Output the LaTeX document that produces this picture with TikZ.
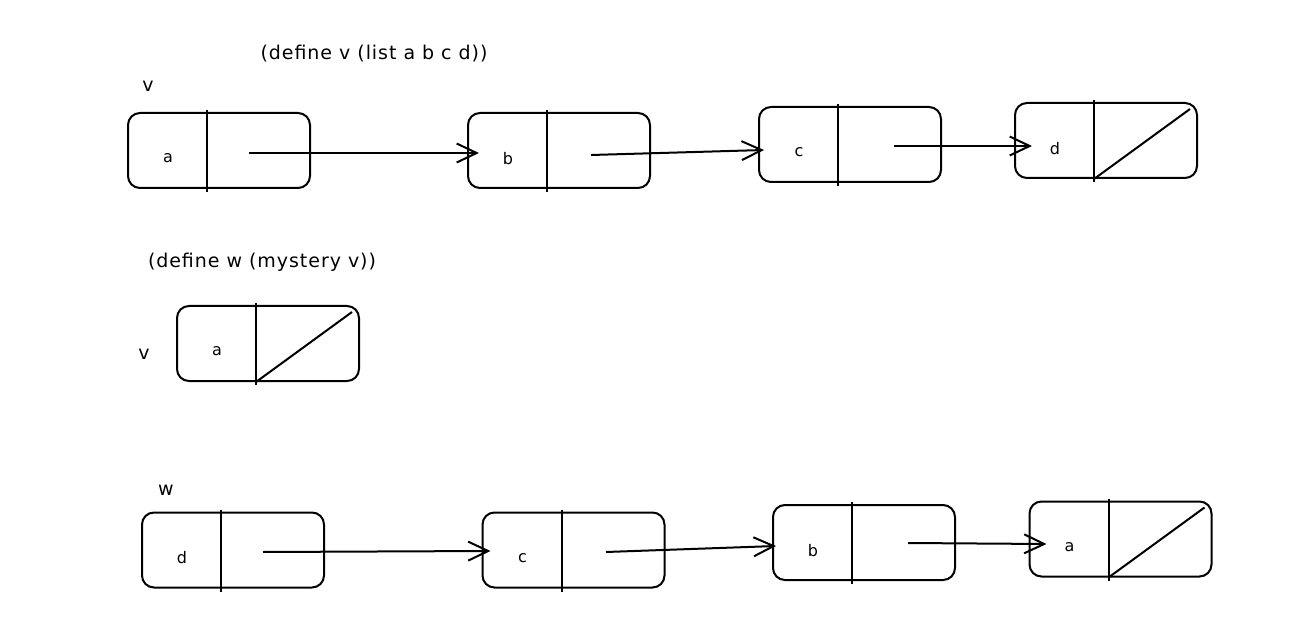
\documentclass[tikz,border=0pt]{standalone}
\usepackage{fontspec}
\setmainfont{DejaVu Sans}
\usetikzlibrary{arrows.meta,positioning}

% one cons cell: name, x, y, car label
\newcommand{\conscell}[4]{%
  \node[cell] (#1) at (#2,#3) {};
  \draw[divider] ([xshift=80pt,yshift=2pt]#1.north west) coordinate (#1top)
    -- ([xshift=80pt,yshift=-3pt]#1.south west) coordinate (#1bot);
  \node[lbl] (#1car) at ([xshift=41pt,yshift=-8pt]#1.west) {#4};
  \coordinate (#1cdr) at ([xshift=-62pt]#1.east);
}
% empty list in the cdr
\newcommand{\nilcell}[1]{%
  \draw[divider] ([yshift=3pt]#1bot) -- ([xshift=-8pt,yshift=-7pt]#1.north east);
}

\begin{document}
\begin{tikzpicture}[x=1pt, y=-1pt,
  cell/.style={draw, rounded corners=12pt, line width=2pt,
               minimum width=182pt, minimum height=75pt, inner sep=0pt},
  divider/.style={line width=2pt},
  lbl/.style={font=\fontsize{16}{19}\selectfont},
  note/.style={font=\fontsize{19}{22}\selectfont\addfontfeatures{LetterSpace=5}},
  ptr/.style={-{Straight Barb[length=20pt,width=19pt]}, line width=2pt}]
  \useasboundingbox (0,0) rectangle (1301,644);

  \node[note] (defv) at (374,54) {(define v (list a b c d))};
  \node[note] (vname) at (148,86) {v};

  \conscell{va}{219}{150.5}{a}
  \conscell{vb}{559}{150.5}{b}
  \conscell{vc}{850}{144.5}{c}
  \conscell{vd}{1106}{140.5}{d}
  \nilcell{vd}
  \draw[ptr] ([yshift=-2.5pt]vacdr) -- ([xshift=12pt,yshift=-2.5pt]vb.west);
  \draw[ptr] ([xshift=2pt,yshift=-4.5pt]vbcdr) -- ([xshift=6pt,yshift=-5.5pt]vc.west);
  \draw[ptr] ([xshift=14pt,yshift=-1.5pt]vccdr) -- ([xshift=18pt,yshift=-5.5pt]vd.west);

  \node[note] (defw) at (262,262) {(define w (mystery v))};
  \node[note] (vagain) at (144,354) {v};
  \conscell{ua}{268}{343.5}{a}
  \nilcell{ua}

  \node[note] (wname) at (166,490) {w};
  \conscell{wd}{233}{550}{d}
  \conscell{wc}{573.5}{550}{c}
  \conscell{wb}{864}{542.5}{b}
  \conscell{wa}{1120.5}{539}{a}
  \nilcell{wa}
  \draw[ptr] ([yshift=-2pt]wdcdr) -- ([xshift=9pt,yshift=-1pt]wc.west);
  \draw[ptr] ([xshift=2.5pt,yshift=-2pt]wccdr) -- ([xshift=4pt,yshift=-3.5pt]wb.west);
  \draw[ptr] ([xshift=14pt,yshift=-0.5pt]wbcdr) -- ([xshift=18pt,yshift=-5pt]wa.west);
\end{tikzpicture}
\end{document}
